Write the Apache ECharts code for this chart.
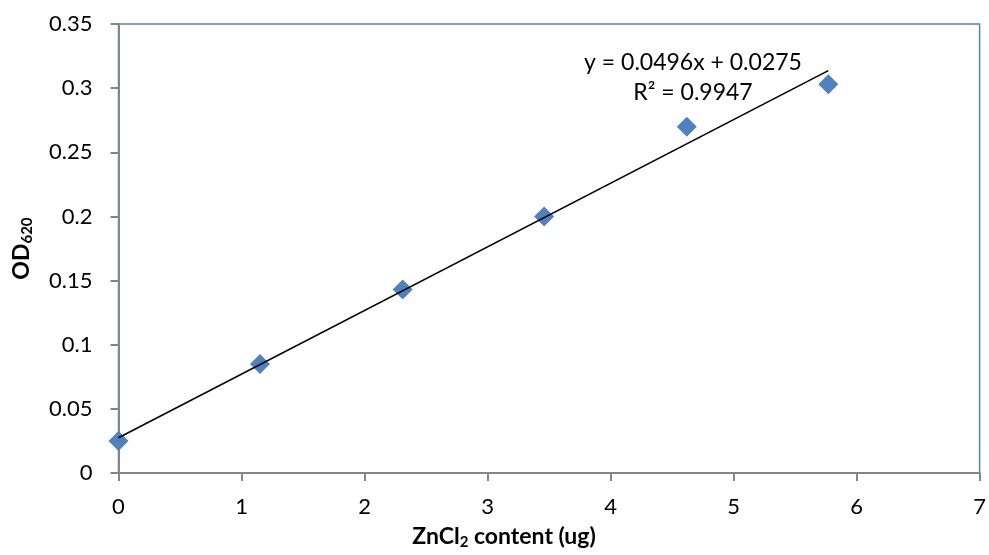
<!DOCTYPE html>
<html>
<head>
<meta charset="utf-8">
<title>OD620 vs ZnCl2</title>
<script src="https://cdn.jsdelivr.net/npm/echarts@6/dist/echarts.min.js"></script>
<style>
  html, body { margin: 0; padding: 0; background: #fff; }
  #chart { width: 989px; height: 555px; }
</style>
</head>
<body>
<div id="chart"></div>
<script>
// 数据 (读取自图片)
const zncl2 = [0, 1.15, 2.31, 3.46, 4.62, 5.77];
const od620 = [0.025, 0.085, 0.143, 0.2, 0.27, 0.303];
const slope = 0.0496;
const intercept = 0.0275;
const eqText = 'y = 0.0496x + 0.0275';
const r2Text = 'R² = 0.9947';

const xTicks = { min: 0, max: 7, interval: 1 };
const yTicks = { min: 0, max: 0.35, interval: 0.05 };

const FONT = 'Lato, "Open Sans", sans-serif';

// 散点
let points = [];
for (let i = 0; i < zncl2.length; i++) {
    points.push([zncl2[i], od620[i]]);
}

// 趋势线 (按图中公式, 从最小x到最大x)
const xFirst = Math.min(...zncl2);
const xLast = Math.max(...zncl2);
const trend = [
    [xFirst, slope * xFirst + intercept],
    [xLast, slope * xLast + intercept]
];

// 轴标题的下标样式
const nameRich = {
    b: { fontFamily: FONT, fontSize: 23, fontWeight: 'bold', color: '#000', lineHeight: 26 },
    s: { fontFamily: FONT, fontSize: 15, fontWeight: 'bold', color: '#000', lineHeight: 17, padding: [12, 0, 0, 0] }
};

const chart = echarts.init(document.getElementById('chart'));

chart.setOption({
    animation: false,
    textStyle: { fontFamily: FONT },
    grid: {
        left: 118,
        right: 8,
        top: 24,
        bottom: 78,
        show: true,
        borderColor: '#4f81bd',
        borderWidth: 1.5
    },
    xAxis: {
        type: 'value',
        min: xTicks.min,
        max: xTicks.max,
        interval: xTicks.interval,
        name: '{b|ZnCl}{s|2}{b| content (ug)}',
        nameLocation: 'middle',
        nameGap: 48,
        // 标题整体偏左 (与图表区居中)
        nameTextStyle: { rich: nameRich, padding: [0, 90, 0, 0] },
        axisLine: { lineStyle: { color: '#868686', width: 2 } },
        axisTick: { show: true, inside: false, length: 8, lineStyle: { color: '#868686', width: 2 } },
        axisLabel: { color: '#000', fontSize: 22, margin: 23 },
        splitLine: { show: false }
    },
    yAxis: {
        type: 'value',
        min: yTicks.min,
        max: yTicks.max,
        interval: yTicks.interval,
        name: '{b|OD}{s|620}',
        nameLocation: 'middle',
        nameRotate: 90,
        nameGap: 84,
        nameTextStyle: { rich: nameRich },
        axisLine: { show: true, lineStyle: { color: '#868686', width: 2 } },
        axisTick: { show: true, inside: false, length: 8, lineStyle: { color: '#868686', width: 2 } },
        axisLabel: { color: '#000', fontSize: 22, margin: 26 },
        splitLine: { show: false }
    },
    series: [
        {
            name: 'trend',
            type: 'line',
            data: trend,
            symbol: 'none',
            lineStyle: { color: '#000', width: 1.6 },
            z: 3
        },
        {
            name: 'OD620',
            type: 'scatter',
            data: points,
            symbol: 'diamond',
            symbolSize: [20, 20],
            itemStyle: { color: '#4f81bd', opacity: 1 },
            z: 2
        }
    ],
    // 趋势线公式
    graphic: [
        {
            type: 'text',
            x: 693,
            y: 63,
            style: {
                text: eqText,
                fontFamily: FONT,
                fontSize: 23,
                fill: '#000',
                align: 'center',
                verticalAlign: 'middle'
            }
        },
        {
            type: 'text',
            x: 693,
            y: 93,
            style: {
                text: r2Text,
                fontFamily: FONT,
                fontSize: 23,
                fill: '#000',
                align: 'center',
                verticalAlign: 'middle'
            }
        }
    ]
});
</script>
</body>
</html>
